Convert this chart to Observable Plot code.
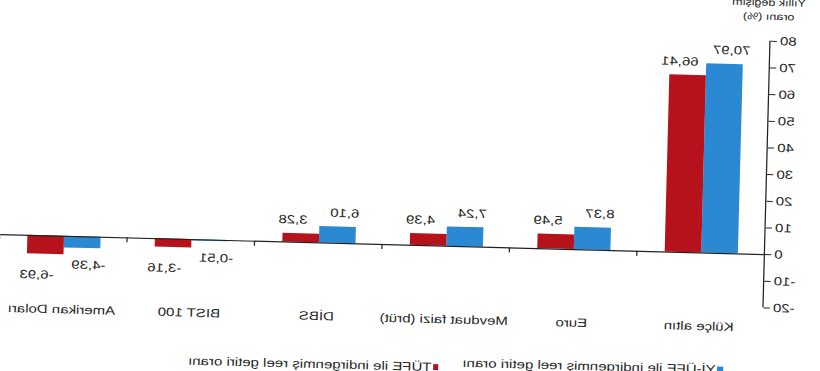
<!DOCTYPE html>
<html><head><meta charset="utf-8">
<script src="https://cdn.jsdelivr.net/npm/d3@7"></script>
<script src="https://cdn.jsdelivr.net/npm/@observablehq/plot@0.6"></script>
<style>
html,body{margin:0;padding:0;background:#fff;overflow:hidden;width:820px;height:371px}
#wrap{position:absolute;left:0;top:0;width:656px;height:380px;transform-origin:0 0;
 transform:matrix(-1.24957,-0.032721,-0.026177,0.999657,826.4,10.22);
 font-family:"Liberation Sans",Arial,sans-serif;color:#1f1f1f;font-size:12px}
#wrap svg{position:absolute;left:0;top:0;overflow:visible}
.ylab{position:absolute;left:-4px;top:-13px;width:100px;text-align:center;line-height:13.5px;font-size:10px}
.ylab div{white-space:nowrap}
.leg{position:absolute;line-height:14px;white-space:nowrap}
.sw{display:inline-block;width:4.8px;height:6px;vertical-align:middle;margin-right:1px;position:relative;top:-1px}
</style></head><body><div id="wrap"></div><script>
const categories = ["Külçe altın", "Euro", "Mevduat faizi (brüt)", "DİBS", "BIST 100", "Amerikan Doları"];
const yiufe = [70.97, 8.37, 7.24, 6.10, -0.51, -4.39];
const tufe = [66.41, 5.49, 4.39, 3.28, -3.16, -6.93];
const seriesNames = ["Yİ-ÜFE ile indirgenmiş reel getiri oranı", "TÜFE ile indirgenmiş reel getiri oranı"];
const seriesColors = ["#2B88D3", "#B5121B"];
const yTicks = [-20, -10, 0, 10, 20, 30, 40, 50, 60, 70, 80];
const yAxisLabel = ["Yıllık değişim", "oranı (%)"];

const barFrac = 0.287;
const rows = categories.flatMap((c, i) => [
  {cat: c, i, s: 0, series: seriesNames[0], v: yiufe[i]},
  {cat: c, i, s: 1, series: seriesNames[1], v: tufe[i]}
]);
const bx1 = d => d.i + 0.5 + (d.s - 1) * barFrac;
const bx2 = d => d.i + 0.5 + d.s * barFrac;
const bxm = d => (bx1(d) + bx2(d)) / 2;
const fmt = v => v.toFixed(2).replace(".", ",");
const lab = (s, pos) => Plot.text(rows.filter(d => d.s === s && (pos ? d.v >= 0 : d.v < 0)), {
  x: bxm, y: "v", text: d => fmt(d.v),
  lineAnchor: pos ? "bottom" : "top", dy: pos ? -10 : (s ? 16 : 12), dx: s ? 6 : -6,
  fontSize: 12, fill: "#1f1f1f"
});

const chart = Plot.plot({
  width: 656, height: 330,
  marginTop: 32, marginBottom: 31.3, marginLeft: 44, marginRight: 0,
  x: {type: "linear", domain: [0, categories.length], axis: null},
  y: {domain: [-20, 80], label: null},
  color: {domain: seriesNames, range: seriesColors},
  style: {fontFamily: "'Liberation Sans', Arial, sans-serif", fontSize: "12px", color: "#1f1f1f", background: "transparent"},
  marks: [
    Plot.rectY(rows, {x1: bx1, x2: bx2, y1: 0, y2: "v", fill: "series"}),
    Plot.ruleY([0], {stroke: "#222", strokeWidth: 1.2}),
    Plot.ruleX(d3.range(1, categories.length + 1), {x: d => d, y1: 0, y2: 0, insetBottom: -5, stroke: "#222"}),
    Plot.ruleX([0], {y1: -20, y2: 80, stroke: "#222"}),
    Plot.axisY({ticks: yTicks, tickSize: 5, tickPadding: 3, tickFormat: d => String(d), label: null, stroke: "#222", fontSize: 12}),
    lab(0, true), lab(1, true), lab(0, false), lab(1, false),
    Plot.text(categories, {x: (d, i) => i + 0.5, y: -20, text: d => d, dy: 20, lineAnchor: "middle", fontSize: 12, fill: "#1f1f1f"})
  ]
});
const wrap = document.getElementById("wrap");
wrap.appendChild(chart);
const yl = document.createElement("div");
yl.className = "ylab";
yAxisLabel.forEach(t => {
  const ln = document.createElement("div");
  ln.textContent = t;
  yl.appendChild(ln);
});
wrap.appendChild(yl);
const legPos = [[75.2, 355], [302.6, 360]];
seriesNames.forEach((n, k) => {
  const it = document.createElement("div");
  it.className = "leg";
  it.style.left = legPos[k][0] + "px";
  it.style.top = legPos[k][1] + "px";
  const sw = document.createElement("span");
  sw.className = "sw";
  sw.style.background = seriesColors[k];
  it.appendChild(sw);
  it.appendChild(document.createTextNode(n));
  wrap.appendChild(it);
});
</script></body></html>
